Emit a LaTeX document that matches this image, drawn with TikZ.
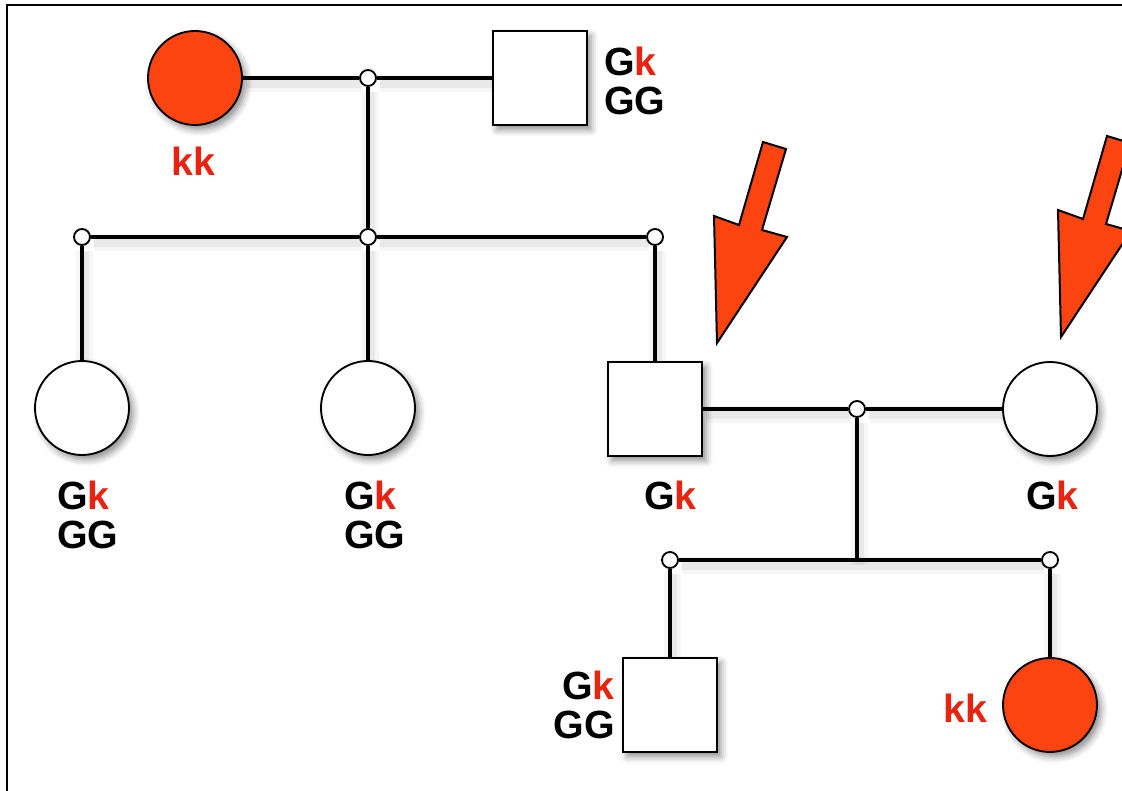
\documentclass[tikz,border=0pt]{standalone}
\usepackage{fontspec}
\setmainfont{Liberation Sans}
\usetikzlibrary{shadows.blur,backgrounds}
\definecolor{kfill}{HTML}{FC4411}
\definecolor{kred}{HTML}{E8230F}
\begin{document}
\begin{tikzpicture}[x=0.75pt,y=-0.75pt,
  person/.style={draw=black, line width=1.4pt, fill=white, inner sep=0pt, minimum size=70.5pt,
    blur shadow={shadow xshift=3pt, shadow yshift=-3.5pt, shadow blur radius=5pt, shadow opacity=45}},
  fem/.style={person, circle},
  mal/.style={person, rectangle},
  affected/.style={fill=kfill},
  junc/.style={circle, draw=black, line width=1.4pt, fill=white, inner sep=0pt, minimum size=12pt},
  link/.style={line width=2.3pt,
    preaction={draw=black, draw opacity=0.035, line width=13pt, transform canvas={shift={(2pt,-4pt)}}},
    preaction={draw=black, draw opacity=0.05, line width=7pt, transform canvas={shift={(2pt,-4pt)}}}},
  geno/.style={font=\bfseries\fontsize{29.5}{29}\selectfont, inner sep=0pt},
  pointer/.style={fill=kfill, draw=black, line width=1.5pt, line join=miter}
]
\useasboundingbox (0,0) rectangle (1122,791);
% frame
\draw[line width=1.6pt] (7,795) -- (7,5) -- (1126,5);

% generation I
\node[fem, affected] (gm) at (195,78) {};
\node[mal] (gf) at (540,78) {};
\node[junc] (m1) at (368,78) {};
% generation II sibship
\node[junc] (s1) at (82,237) {};
\node[junc] (s2) at (368,237) {};
\node[junc] (s3) at (655,237) {};
\node[fem] (d1) at (82,408) {};
\node[fem] (d2) at (368,408) {};
\node[mal] (son) at (655,409) {};
\node[fem] (wife) at (1050,409) {};
\node[junc] (m2) at (857,409) {};
\coordinate (drop2) at (857,560);
% generation III sibship
\node[junc] (t1) at (670,560) {};
\node[junc] (t2) at (1050,560) {};
\node[mal] (gs) at (670,705) {};
\node[fem, affected] (gd) at (1050,705) {};

% connectors
\begin{pgfonlayer}{background}
\draw[link] (gm) -- (m1);
\draw[link] (m1) -- (gf);
\draw[link] (m1) -- (s2);
\draw[link] (s1) -- (s2);
\draw[link] (s2) -- (s3);
\draw[link] (s1) -- (d1);
\draw[link] (s2) -- (d2);
\draw[link] (s3) -- (son);
\draw[link] (son) -- (m2);
\draw[link] (m2) -- (wife);
\draw[link] (m2) -- (drop2);
\draw[link] (t1) -- (drop2);
\draw[link] (drop2) -- (t2);
\draw[link] (t1) -- (gs);
\draw[link] (t2) -- (gd);
\end{pgfonlayer}

% genotypes
\node[geno, text=kred, anchor=north west] (lgm) at (171,147) {kk};
\node[geno, anchor=north west, align=left] (lgf) at (604,47) {G\textcolor{kred}{k}\\GG};
\node[geno, anchor=north west, align=left] (ld1) at (57,481) {G\textcolor{kred}{k}\\GG};
\node[geno, anchor=north west, align=left] (ld2) at (344,481) {G\textcolor{kred}{k}\\GG};
\node[geno, anchor=north west] (lson) at (644,481) {G\textcolor{kred}{k}};
\node[geno, anchor=north west] (lwife) at (1026,481) {G\textcolor{kred}{k}};
\node[geno, anchor=north east, align=right] (lgs) at (615,671) {G\textcolor{kred}{k}\\GG};
\node[geno, text=kred, anchor=north east] (lgd) at (988,694) {kk};

% arrows
\draw[pointer] (763,142) -- (786,149) -- (762,230) -- (787,237) -- (717,343) -- (714,216) -- (739,225) -- cycle;
\begin{scope}
\clip (0,0) rectangle (1122,791);
\draw[pointer] (1107,136) -- (1130,143) -- (1106,224) -- (1131,231) -- (1061,337) -- (1058,210) -- (1083,219) -- cycle;
\end{scope}
\end{tikzpicture}
\end{document}
